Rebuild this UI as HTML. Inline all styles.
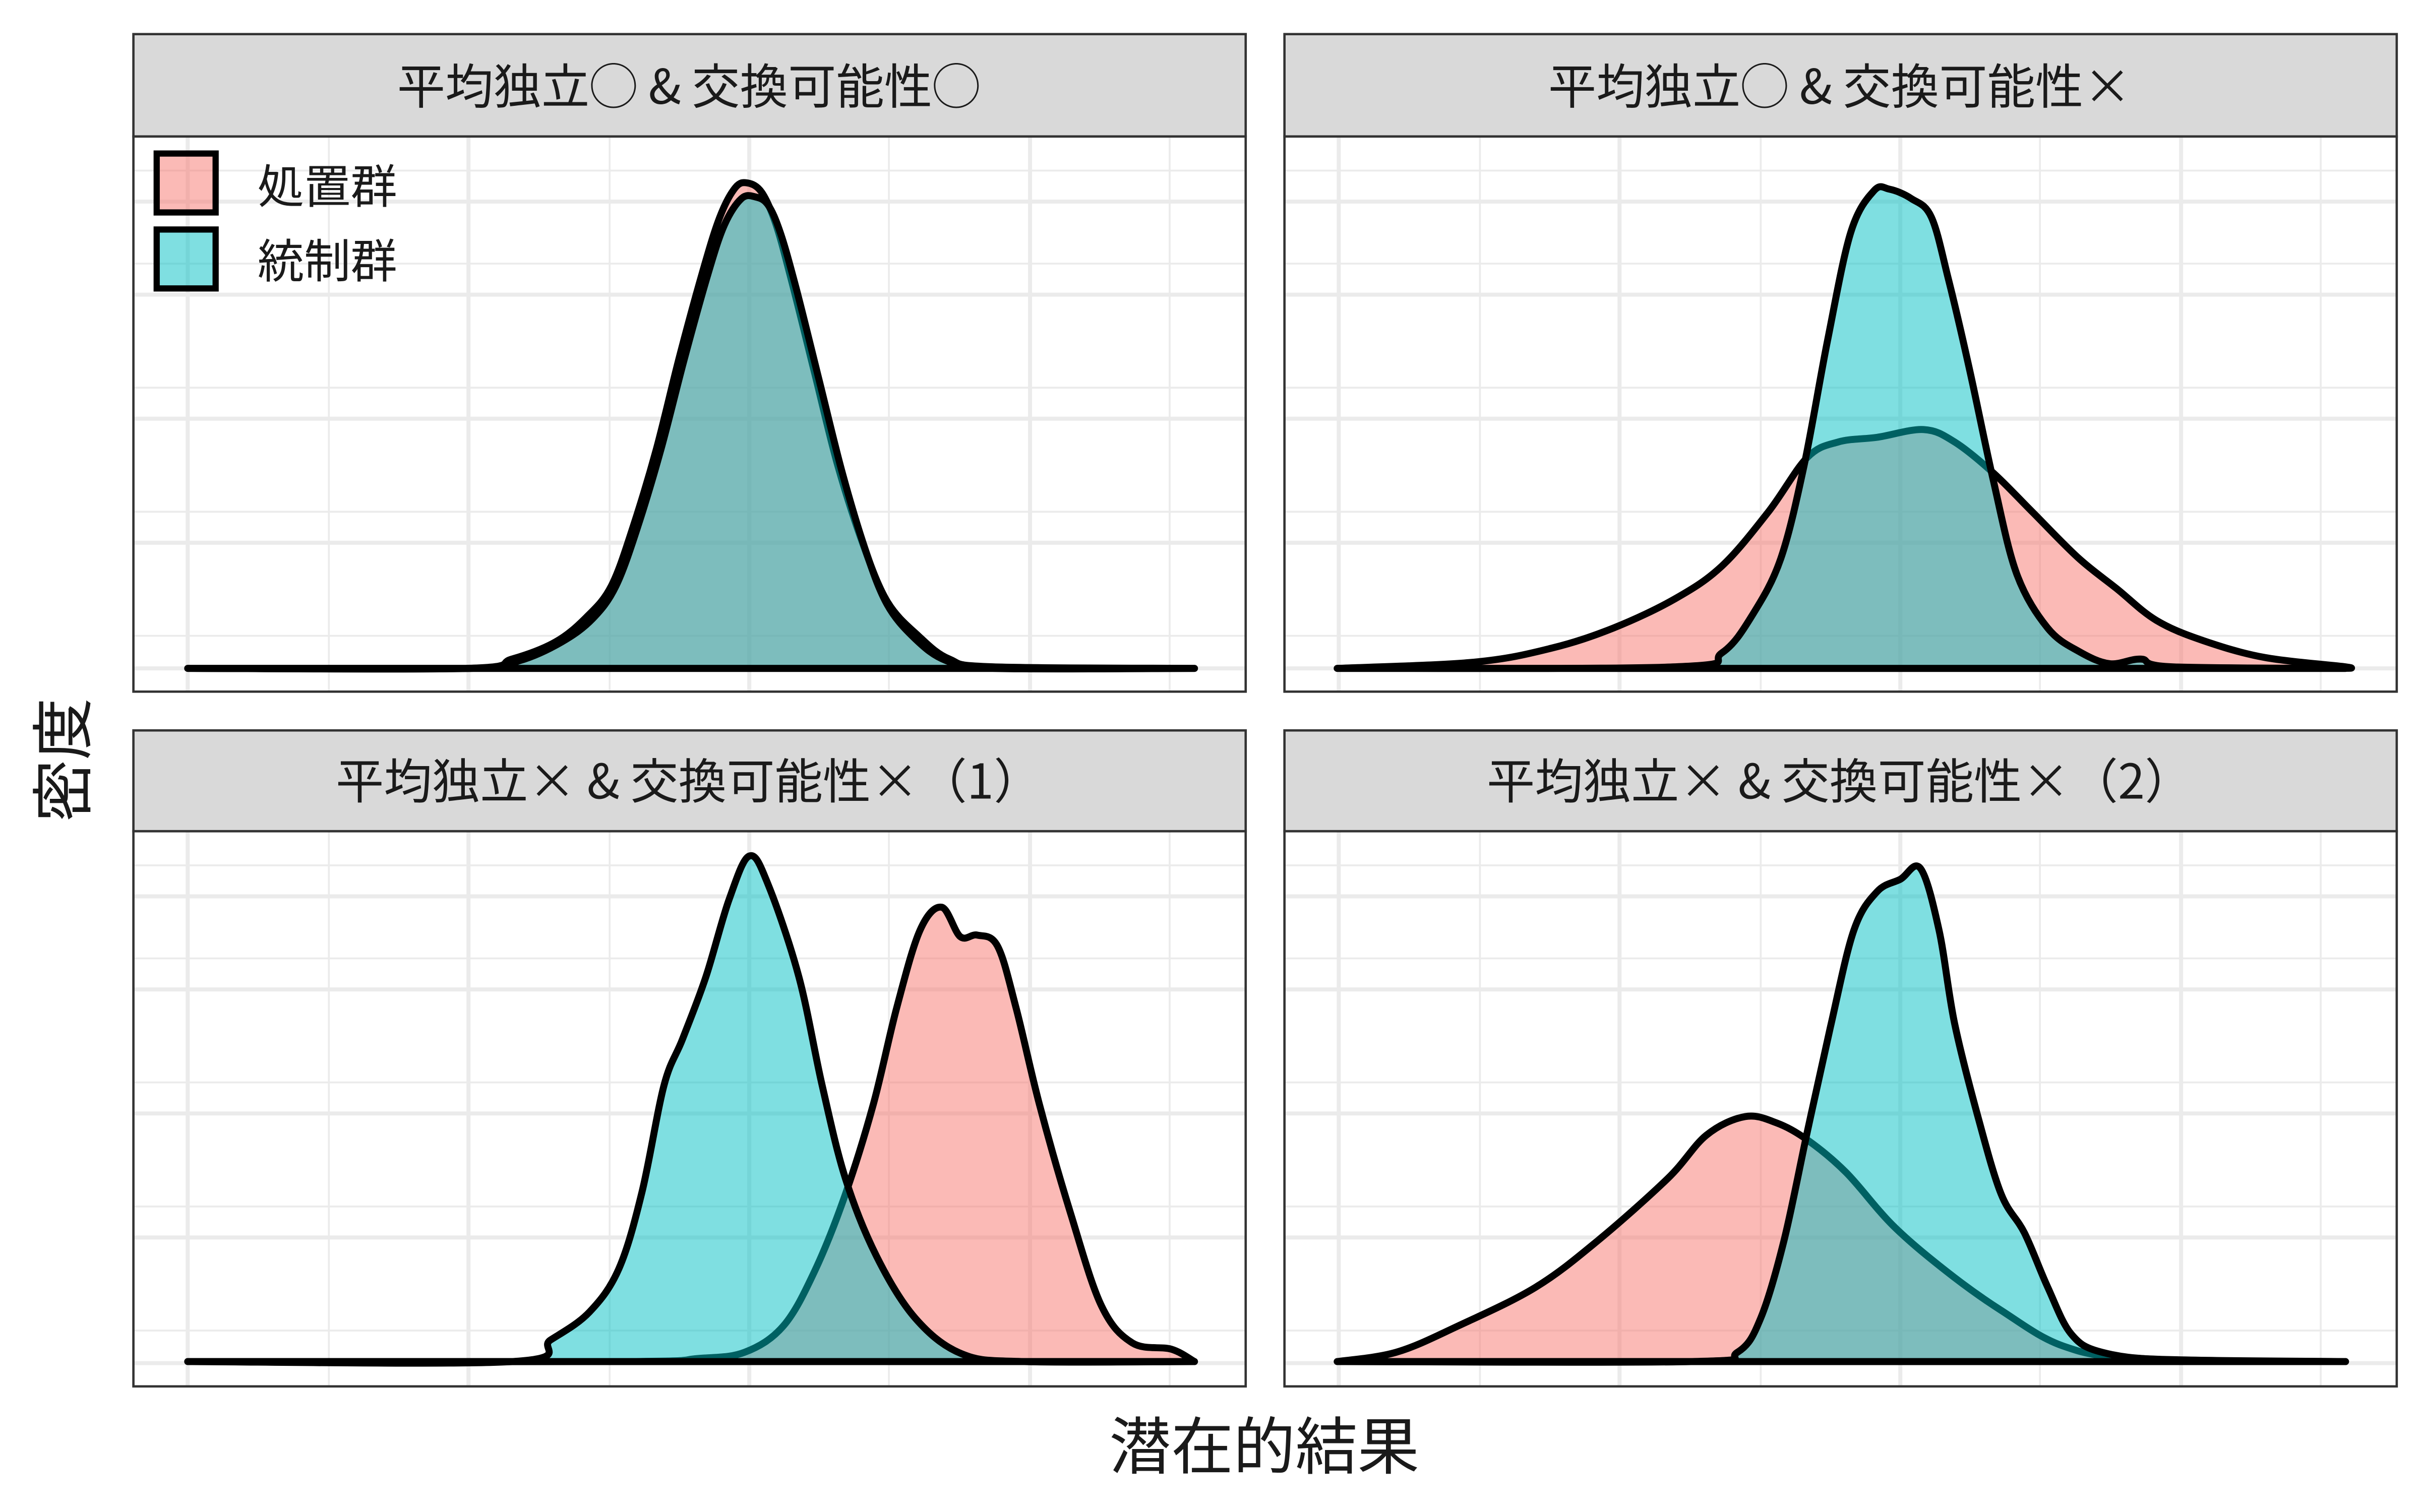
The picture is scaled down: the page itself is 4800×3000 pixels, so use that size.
<!DOCTYPE html>
<html><head><meta charset="utf-8"><style>
html,body{margin:0;padding:0;background:#fff;}
svg{display:block;}
text{font-family:"Liberation Sans","Noto Sans CJK JP",sans-serif;fill:#1a1a1a;}
.strip text{font-family:"Noto Sans CJK JP","Liberation Sans",sans-serif;}
</style></head><body>
<svg width="4800" height="3000" viewBox="0 0 1560 975" xmlns="http://www.w3.org/2000/svg">
<defs>
<g id="gridT">
 <g stroke="#ebebeb" stroke-width="1.2">
  <line x1="0" x2="717" y1="410" y2="410"/><line x1="0" x2="717" y1="330" y2="330"/><line x1="0" x2="717" y1="250" y2="250"/><line x1="0" x2="717" y1="170" y2="170"/><line x1="0" x2="717" y1="110" y2="110"/>
  <line y1="88" y2="446" x1="126" x2="126"/><line y1="88" y2="446" x1="307" x2="307"/><line y1="88" y2="446" x1="487" x2="487"/><line y1="88" y2="446" x1="668" x2="668"/>
 </g>
 <g stroke="#ebebeb" stroke-width="2.6">
  <line x1="0" x2="717" y1="431" y2="431"/><line x1="0" x2="717" y1="350" y2="350"/><line x1="0" x2="717" y1="270" y2="270"/><line x1="0" x2="717" y1="190" y2="190"/><line x1="0" x2="717" y1="130" y2="130"/>
  <line y1="88" y2="446" x1="35" x2="35"/><line y1="88" y2="446" x1="216" x2="216"/><line y1="88" y2="446" x1="397" x2="397"/><line y1="88" y2="446" x1="578" x2="578"/>
 </g>
</g>
</defs>

<g transform="translate(86,0)"><use href="#gridT"/></g>
<g transform="translate(828,0)"><use href="#gridT"/></g>
<g transform="translate(86,448)"><use href="#gridT"/></g>
<g transform="translate(828,448)"><use href="#gridT"/></g>

<g stroke="#333" stroke-width="1.5" fill="#d9d9d9">
<rect x="86" y="22" width="717" height="66"/><rect x="828" y="22" width="717" height="66"/>
<rect x="86" y="471" width="717" height="65"/><rect x="828" y="471" width="717" height="65"/>
</g>
<g class="strip" font-size="31" text-anchor="middle">
<text x="444" y="67">平均独立◯ &amp; 交換可能性◯</text>
<text x="1186" y="67">平均独立◯ &amp; 交換可能性×</text>
<text x="444" y="515">平均独立× &amp; 交換可能性×（1）</text>
<text x="1186" y="515">平均独立× &amp; 交換可能性×（2）</text>
</g>

<g stroke="#000" stroke-width="4.5" stroke-linejoin="round">
<path class="c" fill="#F8766D" fill-opacity="0.5" d="M121,431 L300,431 L330,425 L358,414 L378,398 L394,378 L408,340 L423,290 L438,230 L453,175 L464,140 L474,121 L482,118 L491,124 L500,144 L510,180 L525,240 L540,300 L556,350 L572,388 L592,410 L612,425 L640,430 L770,431 Z"/>
<path class="c" fill="#00BFC4" fill-opacity="0.5" d="M121,431 L305,431 L335,426 L362,414 L382,399 L397,378 L411,340 L426,290 L441,232 L456,178 L467,145 L478,128 L487,127 L495,132 L503,150 L513,185 L528,245 L543,305 L558,355 L572,390 L590,412 L610,426 L640,431 L770,431 Z"/>
<path class="c" fill="#F8766D" fill-opacity="0.5" d="M862,431 L950,427 L1000,418 L1040,405 L1080,386 L1110,365 L1140,330 L1165,295 L1185,285 L1210,282 L1240,277 L1260,285 L1285,305 L1310,330 L1340,360 L1365,380 L1390,400 L1420,413 L1460,424 L1512,430 L1512,431 Z"/>
<path class="c" fill="#00BFC4" fill-opacity="0.5" d="M862,431 L1080,430 L1110,421 L1130,396 L1148,360 L1163,300 L1178,220 L1193,150 L1208,123 L1218,122 L1232,128 L1245,140 L1256,180 L1270,240 L1285,310 L1300,370 L1320,405 L1340,420 L1360,428 L1380,425 L1400,430 L1512,431 Z"/>
<path class="c" fill="#F8766D" fill-opacity="0.5" d="M121,878 L400,878 L450,876 L480,872 L505,855 L525,820 L545,770 L563,712 L578,650 L593,600 L607,585 L619,604 L630,603 L643,610 L655,650 L670,712 L690,782 L710,842 L730,866 L755,870 L770,878 Z"/>
<path class="c" fill="#00BFC4" fill-opacity="0.5" d="M121,878 L330,878 L355,864 L380,846 L399,818 L414,768 L428,700 L440,670 L455,630 L470,580 L483,552 L495,570 L515,630 L530,700 L545,760 L565,810 L590,850 L620,873 L660,878 L770,878 Z"/>
<path class="c" fill="#F8766D" fill-opacity="0.5" d="M862,878 L900,872 L940,855 L990,830 L1030,800 L1075,760 L1100,732 L1125,720 L1145,724 L1165,735 L1190,756 L1220,790 L1255,820 L1290,845 L1330,868 L1380,876 L1512,878 Z"/>
<path class="c" fill="#00BFC4" fill-opacity="0.5" d="M862,878 L1090,878 L1120,872 L1135,850 L1150,800 L1165,730 L1180,662 L1195,600 L1210,575 L1225,567 L1238,560 L1250,600 L1260,660 L1275,720 L1290,770 L1305,795 L1320,830 L1335,860 L1355,872 L1400,877 L1512,878 Z"/>
</g>

<g stroke="#333" stroke-width="1.5" fill="none">
<rect x="86" y="88" width="717" height="358"/><rect x="828" y="88" width="717" height="358"/>
<rect x="86" y="536" width="717" height="358"/><rect x="828" y="536" width="717" height="358"/>
</g>

<rect x="101" y="99" width="38" height="38" fill="#F8766D" fill-opacity="0.5" stroke="#000" stroke-width="4"/>
<rect x="101" y="148" width="38" height="38" fill="#00BFC4" fill-opacity="0.5" stroke="#000" stroke-width="4"/>
<text x="166" y="131" font-size="30">処置群</text>
<text x="166" y="179" font-size="30">統制群</text>

<text x="815" y="947" font-size="40" text-anchor="middle">潜在的結果</text>
<text transform="translate(55,490) rotate(-90)" font-size="40" text-anchor="middle">密度</text>
</svg>
<script>
document.querySelectorAll('path.c').forEach(function(p){
  var nums=p.getAttribute('d').match(/-?\d+(\.\d+)?/g).map(Number);
  var pts=[];for(var i=0;i<nums.length;i+=2)pts.push([nums[i],nums[i+1]]);
  var d='M'+pts[0][0]+','+pts[0][1];
  for(var i=0;i<pts.length-1;i++){
    var p0=pts[Math.max(0,i-1)],p1=pts[i],p2=pts[i+1],p3=pts[Math.min(pts.length-1,i+2)];
    var c1=[p1[0]+(p2[0]-p0[0])/6,p1[1]+(p2[1]-p0[1])/6];
    var c2=[p2[0]-(p3[0]-p1[0])/6,p2[1]-(p3[1]-p1[1])/6];
    d+=' C'+c1[0].toFixed(1)+','+c1[1].toFixed(1)+' '+c2[0].toFixed(1)+','+c2[1].toFixed(1)+' '+p2[0]+','+p2[1];
  }
  p.setAttribute('d',d+' Z');
});
</script>
</body></html>
